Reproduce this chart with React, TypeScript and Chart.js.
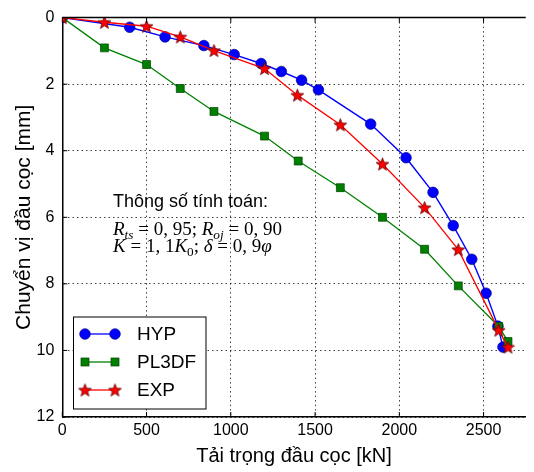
import React, { useEffect, useRef } from 'react';
import { Chart, registerables } from 'chart.js';

Chart.register(...registerables);

// ---- data ----
const hypLoad = [0, 400, 610, 840, 1020, 1180, 1300, 1420, 1520, 1830, 2040, 2200, 2320, 2430, 2515, 2585, 2615];
const hypDisp = [0, 0.29, 0.58, 0.84, 1.11, 1.38, 1.62, 1.88, 2.17, 3.2, 4.21, 5.25, 6.25, 7.26, 8.28, 9.27, 9.9];
const plLoad = [0, 250, 500, 700, 900, 1200, 1400, 1650, 1900, 2150, 2350, 2590, 2645];
const plDisp = [0, 0.91, 1.41, 2.13, 2.82, 3.56, 4.31, 5.11, 6.0, 6.96, 8.06, 9.28, 9.73];
const expLoad = [0, 250, 500, 700, 900, 1200, 1395, 1650, 1900, 2150, 2350, 2590, 2645];
const expDisp = [0, 0.14, 0.26, 0.58, 0.99, 1.53, 2.33, 3.22, 4.4, 5.71, 6.97, 9.39, 9.9];

const seriesNames = ['HYP', 'PL3DF', 'EXP'];
const xTickValues = [0, 500, 1000, 1500, 2000, 2500];
const yTickValues = [0, 2, 4, 6, 8, 10, 12];
const xTitle = 'Tải trọng đầu cọc [kN]';
const yTitle = 'Chuyển vị đầu cọc [mm]';
const noteTitle = 'Thông số tính toán:';

const SANS = '"Liberation Sans", Arial, Helvetica, sans-serif';
const SERIF = '"Liberation Serif", "DejaVu Serif", serif';

const BLUE = '#0000ff';
const GREEN = '#008000';
const RED = '#ff0000';

function makeStar(size: number) {
  const c = document.createElement('canvas');
  c.width = size;
  c.height = size;
  const ctx = c.getContext('2d')!;
  const cx = size / 2;
  const cy = size / 2;
  const ro = size / 2 - 0.8;
  const ri = ro * 0.42;
  ctx.beginPath();
  for (let i = 0; i < 10; i++) {
    const r = i % 2 === 0 ? ro : ri;
    const a = -Math.PI / 2 + (i * Math.PI) / 5;
    const px = cx + r * Math.cos(a);
    const py = cy + r * Math.sin(a) + 0.6;
    if (i === 0) ctx.moveTo(px, py);
    else ctx.lineTo(px, py);
  }
  ctx.closePath();
  ctx.fillStyle = RED;
  ctx.fill();
  ctx.lineWidth = 0.8;
  ctx.strokeStyle = '#5a0000';
  ctx.stroke();
  return c;
}

type Seg = { t: string; it?: boolean; sub?: boolean };

function drawRich(ctx: CanvasRenderingContext2D, x: number, y: number, segs: Seg[], size: number) {
  let cx = x;
  ctx.textBaseline = 'alphabetic';
  ctx.textAlign = 'left';
  for (const s of segs) {
    const fs = s.sub ? size * 0.7 : size;
    ctx.font = `${s.it ? 'italic ' : ''}${fs}px ${SERIF}`;
    const dy = s.sub ? size * 0.22 : 0;
    ctx.fillText(s.t, cx, y + dy);
    cx += ctx.measureText(s.t).width;
  }
}

const line1: Seg[] = [
  { t: 'R', it: true }, { t: 'ts', it: true, sub: true }, { t: ' = 0, 95; ' },
  { t: 'R', it: true }, { t: 'oj', it: true, sub: true }, { t: ' = 0, 90' },
];
const line2: Seg[] = [
  { t: 'K', it: true }, { t: ' = 1, 1' }, { t: 'K', it: true }, { t: '0', sub: true },
  { t: '; ' }, { t: 'δ', it: true }, { t: ' = 0, 9' }, { t: 'φ', it: true },
];

function drawMarker(ctx: CanvasRenderingContext2D, kind: number, x: number, y: number, star: HTMLCanvasElement) {
  if (kind === 0) {
    ctx.beginPath();
    ctx.arc(x, y, 5.3, 0, Math.PI * 2);
    ctx.fillStyle = BLUE;
    ctx.fill();
    ctx.lineWidth = 0.7;
    ctx.strokeStyle = '#00008b';
    ctx.stroke();
  } else if (kind === 1) {
    ctx.fillStyle = GREEN;
    ctx.fillRect(x - 4, y - 4, 8, 8);
    ctx.lineWidth = 0.7;
    ctx.strokeStyle = '#004000';
    ctx.strokeRect(x - 4, y - 4, 8, 8);
  } else {
    ctx.drawImage(star, x - star.width / 2, y - star.height / 2);
  }
}

export default function App() {
  const ref = useRef<HTMLCanvasElement | null>(null);

  useEffect(() => {
    if (!ref.current) return;
    const star = makeStar(15);
    const colors = [BLUE, GREEN, RED];

    const decor = {
      id: 'decor',
      afterDraw(chart: any) {
        const ctx: CanvasRenderingContext2D = chart.ctx;
        const { left, top, right, bottom } = chart.chartArea;
        const xs = chart.scales.x;
        const ys = chart.scales.y;
        ctx.save();
        // top frame line
        ctx.strokeStyle = '#000';
        ctx.lineWidth = 1.5;
        ctx.beginPath();
        ctx.moveTo(left, top);
        ctx.lineTo(right, top);
        ctx.stroke();
        // inner tick marks
        ctx.lineWidth = 1;
        ctx.beginPath();
        for (const v of xTickValues) {
          const px = xs.getPixelForValue(v);
          ctx.moveTo(px, bottom);
          ctx.lineTo(px, bottom - 5);
          ctx.moveTo(px, top);
          ctx.lineTo(px, top + 5);
        }
        for (const v of yTickValues) {
          const py = ys.getPixelForValue(v);
          ctx.moveTo(left, py);
          ctx.lineTo(left + 5, py);
        }
        ctx.stroke();

        // annotation
        ctx.fillStyle = '#000';
        ctx.font = `18px ${SANS}`;
        ctx.textAlign = 'left';
        ctx.textBaseline = 'middle';
        ctx.fillText(noteTitle, 113, 202);
        drawRich(ctx, 113, 235, line1, 19);
        drawRich(ctx, 113, 251.5, line2, 19);

        // legend
        const lx0 = 73.5, ly0 = 317, lx1 = 206, ly1 = 409;
        ctx.fillStyle = '#fff';
        ctx.fillRect(lx0, ly0, lx1 - lx0, ly1 - ly0);
        ctx.strokeStyle = '#000';
        ctx.lineWidth = 1;
        ctx.strokeRect(lx0, ly0, lx1 - lx0, ly1 - ly0);
        const rows = [334, 362, 390];
        seriesNames.forEach((name, i) => {
          const y = rows[i];
          ctx.strokeStyle = colors[i];
          ctx.lineWidth = 1.3;
          ctx.beginPath();
          ctx.moveTo(85, y);
          ctx.lineTo(115, y);
          ctx.stroke();
          drawMarker(ctx, i, 85, y, star);
          drawMarker(ctx, i, 115, y, star);
          ctx.fillStyle = '#000';
          ctx.font = `19px ${SANS}`;
          ctx.textAlign = 'left';
          ctx.textBaseline = 'middle';
          ctx.fillText(name, 137, y + 1);
        });
        ctx.restore();
      },
    };

    const toPts = (xs: number[], ys: number[]) => xs.map((x, i) => ({ x, y: ys[i] }));

    const chart = new Chart(ref.current, {
      type: 'line',
      data: {
        datasets: [
          {
            label: seriesNames[0],
            data: toPts(hypLoad, hypDisp),
            borderColor: BLUE,
            backgroundColor: BLUE,
            borderWidth: 1.4,
            pointStyle: 'circle',
            pointRadius: 5.3,
            pointBorderWidth: 0.7,
            pointBorderColor: '#00008b',
            pointBackgroundColor: BLUE,
            order: 3,
          },
          {
            label: seriesNames[1],
            data: toPts(plLoad, plDisp),
            borderColor: GREEN,
            backgroundColor: GREEN,
            borderWidth: 1.3,
            pointStyle: 'rect',
            pointRadius: 5.6,
            pointBorderWidth: 0.7,
            pointBorderColor: '#004000',
            pointBackgroundColor: GREEN,
            order: 2,
          },
          {
            label: seriesNames[2],
            data: toPts(expLoad, expDisp),
            borderColor: RED,
            backgroundColor: RED,
            borderWidth: 1.3,
            pointStyle: star as any,
            pointRadius: 7,
            order: 1,
          },
        ],
      },
      options: {
        animation: false,
        responsive: false,
        maintainAspectRatio: false,
        layout: { padding: { top: 14.5, right: 0, bottom: 0, left: 0 } },
        plugins: { legend: { display: false }, tooltip: { enabled: false } },
        scales: {
          x: {
            type: 'linear',
            position: 'bottom',
            min: 0,
            max: 2750,
            afterBuildTicks: (s: any) => {
              s.ticks = xTickValues.map((v) => ({ value: v }));
            },
            afterFit: (s: any) => {
              s.height = 55;
            },
            ticks: {
              autoSkip: false,
              maxRotation: 0,
              padding: 4,
              color: '#000',
              font: { family: SANS, size: 16 },
              callback: (v: any) => String(v),
            },
            grid: { color: 'rgba(0,0,0,0.75)', lineWidth: 1, drawTicks: false },
            border: { display: true, color: '#000', width: 1.5, dash: [1.5, 3] },
            title: {
              display: true,
              text: xTitle,
              color: '#000',
              font: { family: SANS, size: 20 },
              padding: { top: 0, bottom: 4 },
            },
          },
          y: {
            type: 'linear',
            position: 'left',
            reverse: true,
            min: 0,
            max: 12,
            afterBuildTicks: (s: any) => {
              s.ticks = yTickValues.map((v) => ({ value: v }));
            },
            afterFit: (s: any) => {
              s.width = 62.3;
            },
            ticks: {
              autoSkip: false,
              padding: 8,
              color: '#000',
              font: { family: SANS, size: 16 },
              callback: (v: any) => String(v),
            },
            grid: { color: 'rgba(0,0,0,0.75)', lineWidth: 1, drawTicks: false },
            border: { display: true, color: '#000', width: 1.5, dash: [1.5, 3] },
            title: {
              display: true,
              text: yTitle,
              color: '#000',
              font: { family: SANS, size: 21 },
              padding: { top: 12, bottom: 0 },
            },
          },
        },
      },
      plugins: [decor],
    } as any);

    return () => chart.destroy();
  }, []);

  return (
    <div style={{ position: 'fixed', left: 0, top: 0, width: 534, height: 472, background: '#fff' }}>
      <canvas ref={ref} width={534} height={472} style={{ display: 'block', width: 534, height: 472 }} />
    </div>
  );
}
